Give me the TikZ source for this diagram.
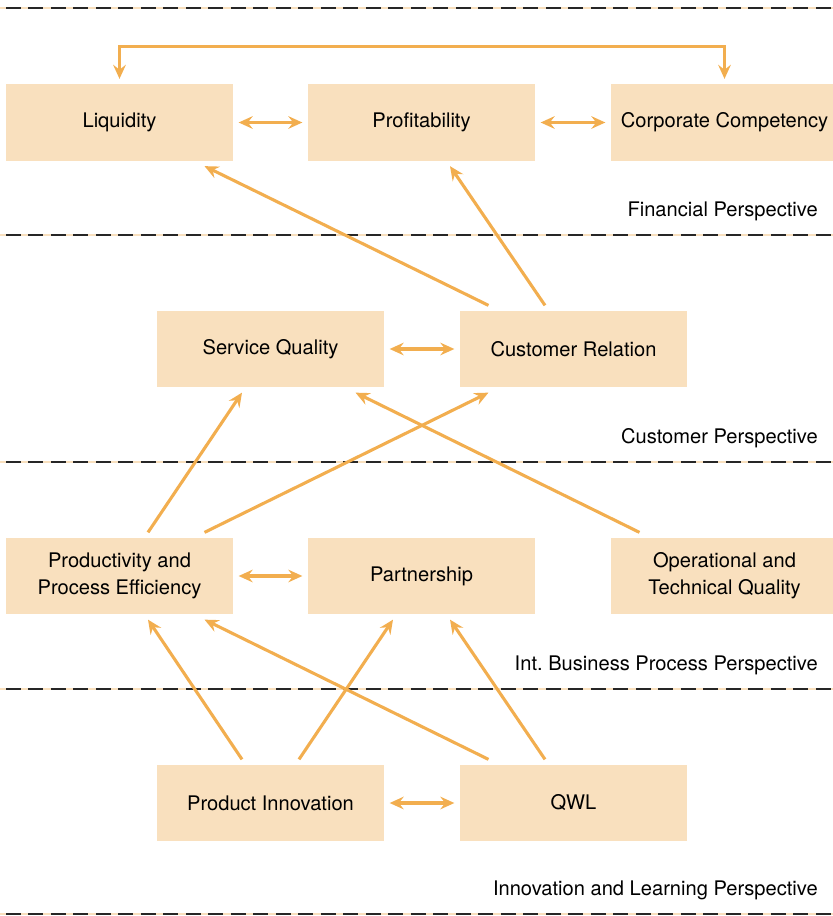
\documentclass[tikz,border=0pt]{standalone}
\usepackage{fontspec}
\setmainfont{TeX Gyre Heros}
\usepackage{tikz}
\usetikzlibrary{arrows.meta,calc}
\definecolor{bsc}{HTML}{F2AE4F}
\definecolor{bscbg}{HTML}{F9E0BE}

\begin{document}
\begin{tikzpicture}[x=0.025cm,y=-0.025cm,font=\fontsize{14.3}{19}\selectfont,
  >={Stealth[length=10pt,width=9pt,inset=3.5pt]},
  blk/.style={fill=bscbg,minimum width=5.675cm,minimum height=1.9cm,inner sep=0pt,outer sep=4pt,align=center},
  lnk/.style={draw=bsc,line width=2.2pt},
  lbl/.style={anchor=east,inner sep=0pt},
  sepbg/.style={draw=bscbg,line width=1.1pt},
  sepfg/.style={draw=black!85,line width=1.1pt,dash pattern=on 10.5pt off 5.5pt}]
\clip (0,0) rectangle (833,916);
% perspective separators
\foreach \y in {8,235,462,689,914} {
  \draw[sepbg] (0,\y) -- (833,\y);
  \draw[sepfg] (6,\y) -- (833,\y);
}
% boxes
\foreach \n/\t/\x/\y in {liq/{Liquidity}/119.5/122.5, prof/{Profitability}/421.5/122.5,
  comp/{Corporate Competency}/724.5/122.5, sq/{Service Quality}/270.5/349,
  cr/{Customer Relation}/573.5/349, prod/{Productivity and\\Process Efficiency}/119.5/576,
  part/{Partnership}/421.5/576, opt/{Operational and\\Technical Quality}/724.5/576,
  pi/{Product Innovation}/270.5/803, qwl/{QWL}/573.5/803}
  \node[blk] (\n) at (\x,\y) {\t};
% perspective labels
\node[lbl] (fin) at (818,211) {Financial Perspective};
\node[lbl] (cus) at (818,438) {Customer Perspective};
\node[lbl] (ibp) at (818,665) {Int.\ Business Process Perspective};
\node[lbl] (inl) at (818,890) {Innovation and Learning Perspective};
% links
\draw[lnk,<->] (liq.north) -- ++(0,-32) -| (comp.north);
\foreach \a/\b in {liq/prof,prof/comp,sq/cr,prod/part,pi/qwl} \draw[lnk,<->] (\a) -- (\b);
\foreach \a/\sa/\b/\sb in {cr/-2.125/liq/2.125, cr/-0.7125/prof/0.7125,
  prod/0.7125/sq/-0.7125, prod/2.125/cr/-2.125, opt/-2.125/sq/2.125,
  pi/-0.7125/prod/0.7125, pi/0.7125/part/-0.7125, qwl/-2.125/prod/2.125,
  qwl/-0.7125/part/0.7125}
  \draw[lnk,->] ([xshift=\sa cm]\a.north) -- ([xshift=\sb cm]\b.south);
\end{tikzpicture}
\end{document}
